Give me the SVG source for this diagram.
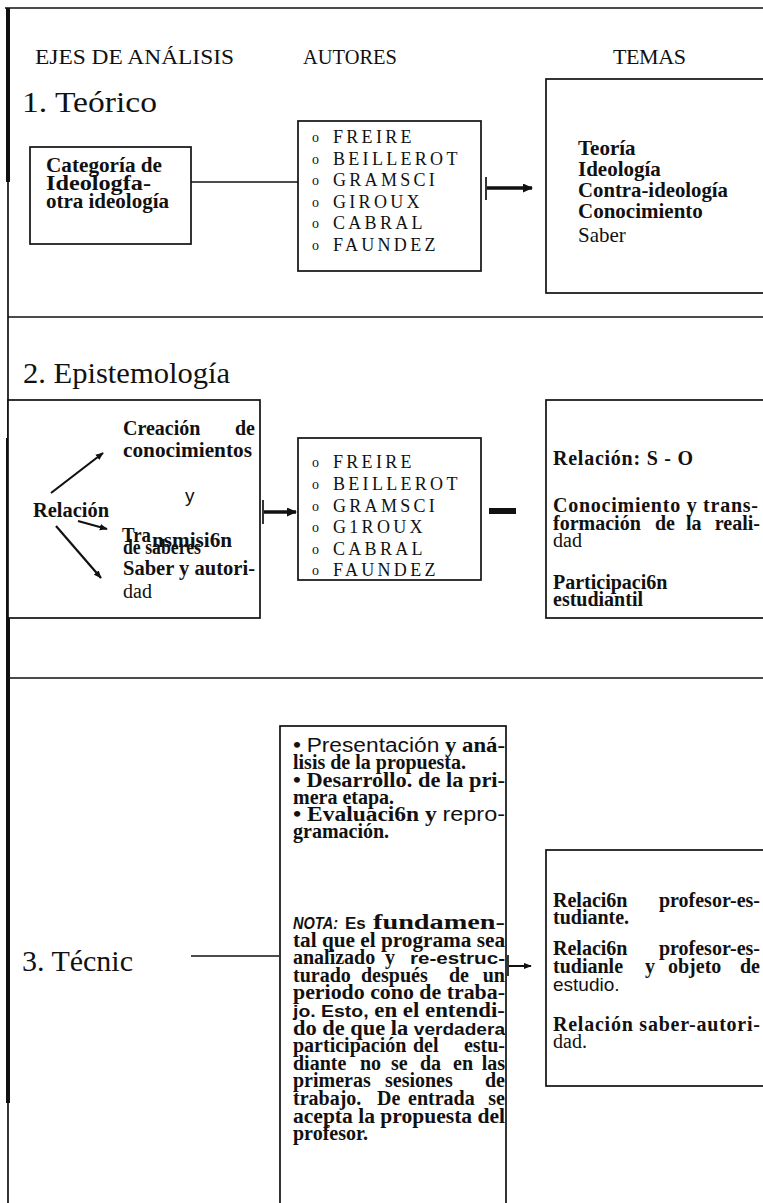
<svg xmlns="http://www.w3.org/2000/svg" width="763" height="1203" viewBox="0 0 763 1203">
<defs>
<marker id="ahB" viewBox="0 0 10 9" refX="9" refY="4.5" markerWidth="10" markerHeight="9" markerUnits="userSpaceOnUse" orient="auto"><path d="M0,0 L10,4.5 L0,9 z" fill="#111"/></marker>
<marker id="ahS" viewBox="0 0 10 8" refX="9" refY="4" markerWidth="8" markerHeight="7" markerUnits="userSpaceOnUse" orient="auto"><path d="M0,0 L10,4 L0,8 z" fill="#111"/></marker>
</defs>
<style>
.box{fill:#fff;stroke:#111;stroke-width:1.7}
.ln{fill:none;stroke:#111;stroke-width:1.7}
.thk{fill:none;stroke:#111;stroke-width:4}
.s{font-family:"Liberation Serif","Times New Roman",serif;fill:#111}
.ss{font-family:"Liberation Sans",Arial,sans-serif;fill:#111}
.b{font-weight:bold}
.h{font-size:22px}
.t{font-size:29px}
.au{font-size:18px;letter-spacing:3.3px}
.o{font-size:14px}
.f20{font-size:20px}
.f21{font-size:21px}
.f19{font-size:19px}
</style>

<g id="frame">
<path class="ln" d="M5,8 H763 M8,8 V1203 M8,317 H763 M8,678 H763"/>
<path class="thk" d="M8,8 V182 M8,438 V1103"/>
</g>

<g id="headers">
<text class="s h" x="35" y="64" textLength="199" lengthAdjust="spacingAndGlyphs">EJES DE ANÁLISIS</text>
<text class="s h" x="303" y="64" textLength="94" lengthAdjust="spacingAndGlyphs">AUTORES</text>
<text class="s h" x="613" y="64" textLength="73" lengthAdjust="spacing">TEMAS</text>
</g>

<g id="sec1-title"><text class="s t" x="22" y="112" textLength="135" lengthAdjust="spacingAndGlyphs">1. Teórico</text></g>

<g id="n-categoria">
<rect class="box" x="30" y="147" width="161" height="97"/>
<text class="s b f20" x="46" y="172" textLength="116" lengthAdjust="spacingAndGlyphs">Categoría de</text>
<text class="s b f20" x="46" y="190" textLength="105" lengthAdjust="spacingAndGlyphs">Ideologfa-</text>
<text class="s b f20" x="46" y="208" textLength="123" lengthAdjust="spacingAndGlyphs">otra ideología</text>
</g>

<g id="n-autores1">
<rect class="box" x="298" y="121" width="183" height="150"/>
<text class="s o" x="312" y="142">o</text><text class="s au" x="333" y="143">FREIRE</text>
<text class="s o" x="312" y="164">o</text><text class="s au" x="333" y="165">BEILLEROT</text>
<text class="s o" x="312" y="185">o</text><text class="s au" x="333" y="186">GRAMSCI</text>
<text class="s o" x="312" y="207">o</text><text class="s au" x="333" y="208">GIROUX</text>
<text class="s o" x="312" y="228">o</text><text class="s au" x="333" y="229">CABRAL</text>
<text class="s o" x="312" y="250">o</text><text class="s au" x="333" y="251">FAUNDEZ</text>
</g>

<g id="n-temas1">
<rect class="box" x="546" y="79" width="240" height="214"/>
<text class="s b f21" x="578" y="155">Teoría</text>
<text class="s b f21" x="578" y="176">Ideología</text>
<text class="s b f21" x="578" y="197" textLength="150" lengthAdjust="spacingAndGlyphs">Contra-ideología</text>
<text class="s b f21" x="578" y="218">Conocimiento</text>
<text class="s f21" x="578" y="242">Saber</text>
</g>

<g id="sec2-title"><text class="s t" x="23" y="383" textLength="207" lengthAdjust="spacingAndGlyphs">2. Epistemología</text></g>

<g id="n-relacion">
<rect class="box" x="8" y="400" width="252" height="218"/>
<text class="s b f20" x="123" y="435">Creación<tspan x="255" text-anchor="end">de</tspan></text>
<text class="s b f20" x="123" y="457" textLength="129" lengthAdjust="spacingAndGlyphs">conocimientos</text>
<text class="ss f19" x="185" y="502">y</text>
<text class="s b f20" x="33" y="517" textLength="76" lengthAdjust="spacingAndGlyphs">Relación</text>
<text class="s b f20" x="122" y="542" textLength="29" lengthAdjust="spacingAndGlyphs">Tra</text>
<text class="s b f20" x="152" y="547" textLength="80" lengthAdjust="spacingAndGlyphs">nsmisi6n</text>
<text class="s b f20" x="123" y="554" textLength="78" lengthAdjust="spacingAndGlyphs">de saberes</text>
<text class="s b f20" x="123" y="575" textLength="132" lengthAdjust="spacingAndGlyphs">Saber y autori-</text>
<text class="s f20" x="123" y="598">dad</text>
</g>

<g id="n-autores2">
<rect class="box" x="298" y="438" width="183" height="142"/>
<text class="s o" x="312" y="467">o</text><text class="s au" x="333" y="468">FREIRE</text>
<text class="s o" x="312" y="489">o</text><text class="s au" x="333" y="490">BEILLEROT</text>
<text class="s o" x="312" y="511">o</text><text class="s au" x="333" y="512">GRAMSCI</text>
<text class="s o" x="312" y="532">o</text><text class="s au" x="333" y="533">G1ROUX</text>
<text class="s o" x="312" y="554">o</text><text class="s au" x="333" y="555">CABRAL</text>
<text class="s o" x="312" y="575">o</text><text class="s au" x="333" y="576">FAUNDEZ</text>
</g>

<g id="n-temas2">
<rect class="box" x="546" y="400" width="240" height="218"/>
<text class="s b f20" x="553" y="465" textLength="140" lengthAdjust="spacing">Relación: S - O</text>
<text class="s b f20" x="553" y="512" textLength="205" lengthAdjust="spacing">Conocimiento y trans-</text>
<text class="s b f20" x="553" y="530">formación<tspan x="655">de</tspan><tspan x="686">la</tspan><tspan x="760" text-anchor="end">reali-</tspan></text>
<text class="s f20" x="553" y="547">dad</text>
<text class="s b f20" x="553" y="589">Participaci6n</text>
<text class="s b f20" x="553" y="606">estudiantil</text>
</g>

<g id="sec3-title"><text class="s t" x="22" y="971" textLength="111" lengthAdjust="spacingAndGlyphs">3. Técnic</text></g>

<g id="n-programa">
<rect class="box" x="280" y="726" width="226" height="520"/>
<text class="s b f20" x="293" y="752" textLength="212" lengthAdjust="spacingAndGlyphs">• <tspan class="ss" style="font-weight:normal">Presentación</tspan> y aná-</text>
<text class="s b f20" x="293" y="769">lisis de la propuesta.</text>
<text class="s b f20" x="293" y="787" textLength="212" lengthAdjust="spacingAndGlyphs">• Desarrollo. de la pri-</text>
<text class="s b f20" x="293" y="804">mera etapa.</text>
<text class="s b f20" x="293" y="821" textLength="212" lengthAdjust="spacingAndGlyphs">• Evaluaci6n y <tspan class="ss" style="font-weight:normal">repro-</tspan></text>
<text class="s b f20" x="293" y="838">gramación.</text>

<text class="ss b" x="293" y="929" font-size="16" font-style="italic" textLength="45" lengthAdjust="spacingAndGlyphs">NOTA:</text>
<text class="ss b" x="345" y="929" font-size="17">Es</text>
<text class="s b f20" x="373" y="929" textLength="132" lengthAdjust="spacingAndGlyphs">fundamen-</text>
<text class="s b f20" x="293" y="946.6" textLength="212" lengthAdjust="spacingAndGlyphs">tal que el programa sea</text>
<text class="s b f20" x="293" y="964.2">analizado<tspan x="385">y</tspan></text>
<text class="ss b" x="410" y="964.2" font-size="17" textLength="95" lengthAdjust="spacingAndGlyphs">re-estruc-</text>
<text class="s b f20" x="293" y="981.8">turado<tspan x="361">después</tspan><tspan x="449">de</tspan><tspan x="505" text-anchor="end">un</tspan></text>
<text class="s b f20" x="293" y="999.4" textLength="212" lengthAdjust="spacingAndGlyphs">periodo cono de traba-</text>
<text class="s b f20" x="293" y="1017" textLength="212" lengthAdjust="spacingAndGlyphs"><tspan class="ss" font-size="17">jo. Esto,</tspan> en el entendi-</text>
<text class="s b f20" x="293" y="1034.6" textLength="212" lengthAdjust="spacingAndGlyphs">do de que la <tspan class="ss" font-size="17">verdadera</tspan></text>
<text class="s b f20" x="293" y="1052.2">participación<tspan x="413">del</tspan><tspan x="505" text-anchor="end">estu-</tspan></text>
<text class="s b f20" x="293" y="1069.8">diante<tspan x="360">no</tspan><tspan x="391">se</tspan><tspan x="420">da</tspan><tspan x="453">en</tspan><tspan x="505" text-anchor="end">las</tspan></text>
<text class="s b f20" x="293" y="1087.4">primeras<tspan x="385">sesiones</tspan><tspan x="505" text-anchor="end">de</tspan></text>
<text class="s b f20" x="293" y="1105">trabajo.<tspan x="377">De</tspan><tspan x="408">entrada</tspan><tspan x="505" text-anchor="end">se</tspan></text>
<text class="s b f20" x="293" y="1122.6" textLength="212" lengthAdjust="spacingAndGlyphs">acepta la propuesta del</text>
<text class="s b f20" x="293" y="1140.2">profesor.</text>
</g>

<g id="n-temas3">
<rect class="box" x="546" y="850" width="240" height="236"/>
<text class="s b f20" x="553" y="907">Relaci6n<tspan x="760" text-anchor="end">profesor-es-</tspan></text>
<text class="s b f20" x="553" y="924">tudiante.</text>
<text class="s b f20" x="553" y="955">Relaci6n<tspan x="760" text-anchor="end">profesor-es-</tspan></text>
<text class="s b f20" x="553" y="973">tudianle<tspan x="645">y</tspan><tspan x="668">objeto</tspan><tspan x="760" text-anchor="end">de</tspan></text>
<text class="ss f19" x="553" y="991">estudio.</text>
<text class="s b f20" x="553" y="1031" textLength="207" lengthAdjust="spacing">Relación saber-autori-</text>
<text class="s f20" x="553" y="1048">dad.</text>
</g>

<g id="connectors">
<path class="ln" d="M191,182 H298"/>
<path class="ln" d="M486,177 V200" stroke-width="1.2"/>
<path d="M487,188 H532" stroke="#111" stroke-width="3.5" marker-end="url(#ahB)"/>
<path d="M51,493 L103,453" stroke="#111" stroke-width="2.2" marker-end="url(#ahS)"/>
<path d="M78,521 L107,529" stroke="#111" stroke-width="2.2" marker-end="url(#ahS)"/>
<path d="M56,526 L101,578" stroke="#111" stroke-width="2.2" marker-end="url(#ahS)"/>
<path class="ln" d="M263,500 V524" stroke-width="1.2"/>
<path d="M264,512 H296" stroke="#111" stroke-width="3.5" marker-end="url(#ahB)"/>
<rect x="489" y="508" width="27" height="6" fill="#111"/>
<path class="ln" d="M191,956 H279"/>
<path class="ln" d="M508,955 V976" stroke-width="1.2"/>
<path d="M509,966 H531" stroke="#111" stroke-width="2" marker-end="url(#ahS)"/>
</g>
</svg>
